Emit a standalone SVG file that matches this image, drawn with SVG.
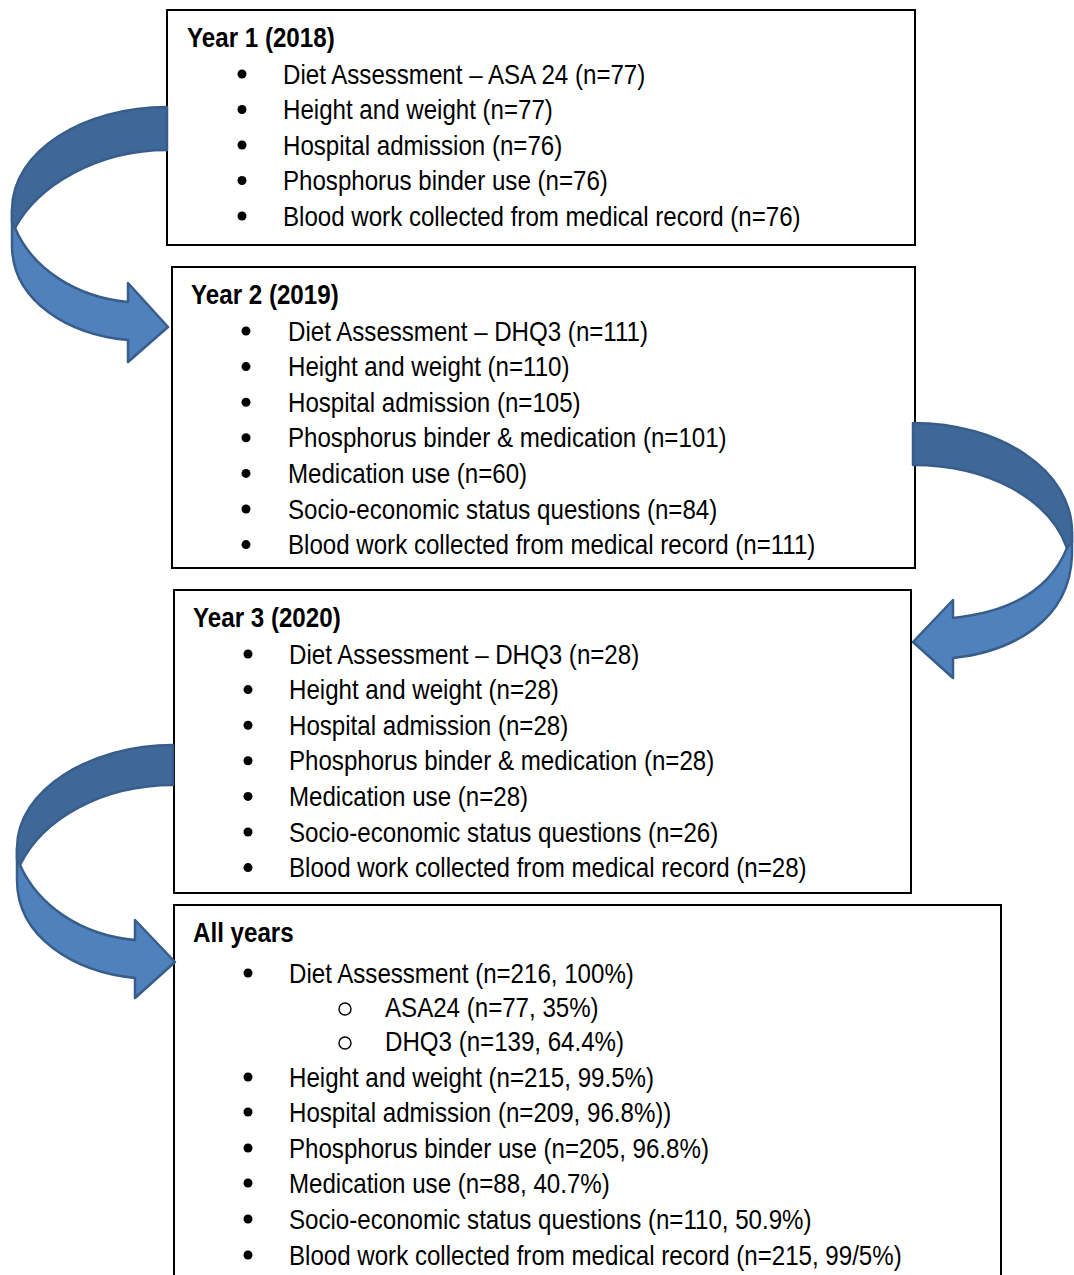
<svg xmlns="http://www.w3.org/2000/svg" width="1074" height="1275" viewBox="0 0 1074 1275">
  <style>
    .box { fill: #ffffff; stroke: #000000; stroke-width: 2; }
    .t { font-family: "Liberation Sans", Arial, sans-serif; font-size: 27px; fill: #000000; }
    .h { font-weight: bold; }
    .dot { fill: #000000; }
    .ring { fill: none; stroke: #000000; stroke-width: 1.4; }
    .back { fill: #3e6898; stroke: #385d8a; stroke-width: 2.5; stroke-linejoin: round; }
    .front { fill: #4f81bd; stroke: #385d8a; stroke-width: 2.5; stroke-linejoin: round; }
  </style>
  <rect width="1074" height="1275" fill="#ffffff"/>

  <!-- Year 1 -->
  <g id="year1">
    <rect class="box" x="167" y="10" width="748" height="235"/>
    <text class="t h" transform="translate(187 47) scale(0.895 1)">Year 1 (2018)</text>
    <circle class="dot" cx="242" cy="74" r="4.5"/>
    <text class="t" transform="translate(283 83.5) scale(0.893 1)">Diet Assessment – ASA 24 (n=77)</text>
    <circle class="dot" cx="242" cy="109.5" r="4.5"/>
    <text class="t" transform="translate(283 119) scale(0.893 1)">Height and weight (n=77)</text>
    <circle class="dot" cx="242" cy="145" r="4.5"/>
    <text class="t" transform="translate(283 154.5) scale(0.893 1)">Hospital admission (n=76)</text>
    <circle class="dot" cx="242" cy="180.5" r="4.5"/>
    <text class="t" transform="translate(283 190) scale(0.893 1)">Phosphorus binder use (n=76)</text>
    <circle class="dot" cx="242" cy="216" r="4.5"/>
    <text class="t" transform="translate(283 225.5) scale(0.893 1)">Blood work collected from medical record (n=76)</text>
  </g>

  <!-- Year 2 -->
  <g id="year2">
    <rect class="box" x="172" y="267" width="743" height="301"/>
    <text class="t h" transform="translate(191 304) scale(0.895 1)">Year 2 (2019)</text>
    <circle class="dot" cx="246" cy="331" r="4.5"/>
    <text class="t" transform="translate(288 340.5) scale(0.893 1)">Diet Assessment – DHQ3 (n=111)</text>
    <circle class="dot" cx="246" cy="366.6" r="4.5"/>
    <text class="t" transform="translate(288 376.1) scale(0.893 1)">Height and weight (n=110)</text>
    <circle class="dot" cx="246" cy="402.2" r="4.5"/>
    <text class="t" transform="translate(288 411.7) scale(0.893 1)">Hospital admission (n=105)</text>
    <circle class="dot" cx="246" cy="437.8" r="4.5"/>
    <text class="t" transform="translate(288 447.3) scale(0.893 1)">Phosphorus binder &amp; medication (n=101)</text>
    <circle class="dot" cx="246" cy="473.4" r="4.5"/>
    <text class="t" transform="translate(288 482.9) scale(0.893 1)">Medication use (n=60)</text>
    <circle class="dot" cx="246" cy="509" r="4.5"/>
    <text class="t" transform="translate(288 518.5) scale(0.893 1)">Socio-economic status questions (n=84)</text>
    <circle class="dot" cx="246" cy="544.6" r="4.5"/>
    <text class="t" transform="translate(288 554.1) scale(0.893 1)">Blood work collected from medical record (n=111)</text>
  </g>

  <!-- Year 3 -->
  <g id="year3">
    <rect class="box" x="174" y="590" width="737" height="303"/>
    <text class="t h" transform="translate(193 627) scale(0.895 1)">Year 3 (2020)</text>
    <circle class="dot" cx="248" cy="654" r="4.5"/>
    <text class="t" transform="translate(289 663.5) scale(0.893 1)">Diet Assessment – DHQ3 (n=28)</text>
    <circle class="dot" cx="248" cy="689.6" r="4.5"/>
    <text class="t" transform="translate(289 699.1) scale(0.893 1)">Height and weight (n=28)</text>
    <circle class="dot" cx="248" cy="725.2" r="4.5"/>
    <text class="t" transform="translate(289 734.7) scale(0.893 1)">Hospital admission (n=28)</text>
    <circle class="dot" cx="248" cy="760.8" r="4.5"/>
    <text class="t" transform="translate(289 770.3) scale(0.893 1)">Phosphorus binder &amp; medication (n=28)</text>
    <circle class="dot" cx="248" cy="796.4" r="4.5"/>
    <text class="t" transform="translate(289 805.9) scale(0.893 1)">Medication use (n=28)</text>
    <circle class="dot" cx="248" cy="832" r="4.5"/>
    <text class="t" transform="translate(289 841.5) scale(0.893 1)">Socio-economic status questions (n=26)</text>
    <circle class="dot" cx="248" cy="867.6" r="4.5"/>
    <text class="t" transform="translate(289 877.1) scale(0.893 1)">Blood work collected from medical record (n=28)</text>
  </g>

  <!-- All years -->
  <g id="all-years">
    <rect class="box" x="174" y="905" width="827" height="390"/>
    <text class="t h" transform="translate(193 942) scale(0.895 1)">All years</text>
    <circle class="dot" cx="248" cy="973" r="4.5"/>
    <text class="t" transform="translate(289 982.5) scale(0.893 1)">Diet Assessment (n=216, 100%)</text>
    <circle class="ring" cx="345" cy="1009" r="6"/>
    <text class="t" transform="translate(385 1016.5) scale(0.893 1)">ASA24 (n=77, 35%)</text>
    <circle class="ring" cx="345" cy="1043" r="6"/>
    <text class="t" transform="translate(385 1050.5) scale(0.893 1)">DHQ3 (n=139, 64.4%)</text>
    <circle class="dot" cx="248" cy="1077" r="4.5"/>
    <text class="t" transform="translate(289 1086.5) scale(0.893 1)">Height and weight (n=215, 99.5%)</text>
    <circle class="dot" cx="248" cy="1112" r="4.5"/>
    <text class="t" transform="translate(289 1121.5) scale(0.893 1)">Hospital admission (n=209, 96.8%))</text>
    <circle class="dot" cx="248" cy="1148" r="4.5"/>
    <text class="t" transform="translate(289 1157.5) scale(0.893 1)">Phosphorus binder use (n=205, 96.8%)</text>
    <circle class="dot" cx="248" cy="1183" r="4.5"/>
    <text class="t" transform="translate(289 1192.5) scale(0.893 1)">Medication use (n=88, 40.7%)</text>
    <circle class="dot" cx="248" cy="1219" r="4.5"/>
    <text class="t" transform="translate(289 1228.5) scale(0.893 1)">Socio-economic status questions (n=110, 50.9%)</text>
    <circle class="dot" cx="248" cy="1255" r="4.5"/>
    <text class="t" transform="translate(289 1264.5) scale(0.893 1)">Blood work collected from medical record (n=215, 99/5%)</text>
  </g>

  <!-- Curved ribbon arrows between the yearly boxes -->
  <g id="connectors">
    <!-- Year 1 to Year 2 -->
    <path class="front" d="M12,210 L12,245 C12,302 70,335 128,340 L128,362 L168,327 L128,283 L128,302 C75,297 32,268 15,228 Z"/>
    <path class="back" d="M167,107 C85,107 12,150 12,210 L12,222 L15,228 C38,185 98,150 167,150 Z"/>
    <!-- Year 2 to Year 3 -->
    <path class="front" d="M1072,532 L1072,555 C1070,622 1010,652 953,658 L953,678 L913,642 L953,600 L953,618 C1010,612 1050,590 1067,548 Z"/>
    <path class="back" d="M913,423 C1000,423 1072,470 1072,532 L1072,542 L1067,548 C1050,500 990,465 913,465 Z"/>
    <!-- Year 3 to All years -->
    <path class="front" d="M17,848 L17,880 C17,938 75,972 135,978 L135,998 L175,962 L135,920 L135,940 C80,935 38,905 20,865 Z"/>
    <path class="back" d="M173,745 C90,745 17,790 17,848 L17,860 L20,865 C43,818 103,785 173,785 Z"/>
  </g>
</svg>
